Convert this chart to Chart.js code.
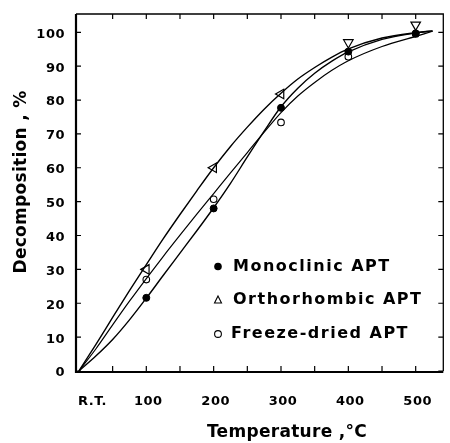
<!DOCTYPE html>
<html><head><meta charset="utf-8">
<script src="https://cdn.jsdelivr.net/npm/chart.js@4.4.1/dist/chart.umd.min.js"></script>
<style>html,body{margin:0;padding:0;background:#fff}#wrap{width:450px;height:443px;position:relative}</style>
</head><body><div id="wrap"><canvas id="c"></canvas></div>
<script>
// ---- data ----
const temperatures = [100, 200, 300, 400, 500];
const monoclinic   = [21.6, 48, 77.7, 94.3, 99.7];
const orthorhombic = [30, 60, 81.8, 97, 102.2];
const freezeDried  = [27, 50.7, 73.4, 92.8, 99.5];
const orthoRotation = [-90, -90, -90, 180, 180];

const curveT      = [0, 25, 50, 75, 100, 125, 150, 175, 200, 225, 250, 275, 300, 325, 350, 375, 400, 450, 500, 525];
const orthoCurve  = [0, 7.8, 15.8, 23.7, 31.4, 39, 46.2, 53.2, 60, 66.3, 72, 77.3, 82, 86.2, 89.6, 92.6, 95.1, 98.3, 99.9, 100.4];
const monoCurve   = [0, 4.4, 9.3, 15.1, 21.5, 28.2, 34.8, 41.4, 48.2, 55.4, 63.2, 70.8, 78, 83.5, 87.9, 91.4, 94.2, 97.9, 99.8, 100.4];
const freezeCurve = [0, 6.5, 13.6, 20.6, 27.3, 33.8, 40.1, 46.3, 52.4, 58.5, 64.5, 70.5, 76.3, 81.2, 85.2, 88.7, 91.6, 95.8, 98.8, 100.3];

const xTickValues = [50, 100, 150, 200, 250, 300, 350, 400, 450, 500];
const xLabelValues = [0, 100, 200, 300, 400, 500];
const xLabelTexts  = ['R.T.', '100', '200', '300', '400', '500'];
const yTickValues = [0, 10, 20, 30, 40, 50, 60, 70, 80, 90, 100];
const legendLabels = ['Monoclinic APT', 'Orthorhombic APT', 'Freeze-dried APT'];
const xTitle = 'Temperature ,°C';
const yTitle = 'Decomposition , %';

const pts = (xs, ys) => xs.map((x, i) => ({x, y: ys[i]}));
const FONT = '"DejaVu Sans", sans-serif';

const decor = {
  id: 'decor',
  afterDraw(chart) {
    const {ctx, chartArea: a, scales: {x, y}} = chart;
    ctx.save();
    ctx.strokeStyle = '#000'; ctx.fillStyle = '#000';
    // frame
    ctx.lineWidth = 1.3;
    ctx.beginPath(); ctx.moveTo(a.left, a.top); ctx.lineTo(a.right, a.top); ctx.lineTo(a.right, a.bottom); ctx.stroke();
    ctx.lineWidth = 2.2;
    ctx.beginPath(); ctx.moveTo(a.left, a.top); ctx.lineTo(a.left, a.bottom + 1); ctx.lineTo(a.right, a.bottom + 1); ctx.stroke();
    // inward ticks
    ctx.lineWidth = 1.2;
    ctx.beginPath();
    xTickValues.forEach(v => {
      const px = x.getPixelForValue(v);
      ctx.moveTo(px, a.bottom); ctx.lineTo(px, a.bottom - 5);
      ctx.moveTo(px, a.top); ctx.lineTo(px, a.top + 5);
    });
    yTickValues.forEach(v => {
      const py = y.getPixelForValue(v);
      ctx.moveTo(a.left, py); ctx.lineTo(a.left + 5, py);
      ctx.moveTo(a.right, py); ctx.lineTo(a.right - 5, py);
    });
    ctx.stroke();
    // y tick labels
    ctx.font = 'bold 13px ' + FONT;
    ctx.letterSpacing = '0.5px';
    ctx.textAlign = 'right'; ctx.textBaseline = 'middle';
    yTickValues.forEach(v => ctx.fillText(String(v), a.left - 11, y.getPixelForValue(v) + 2));
    // x tick labels
    xLabelValues.forEach((v, i) => {
      const px = x.getPixelForValue(v);
      ctx.textAlign = i === 0 ? 'left' : 'center';
      ctx.fillText(xLabelTexts[i], i === 0 ? px - 1 : px + 2, a.bottom + 31);
    });
    // axis titles
    ctx.font = 'bold 17px ' + FONT;
    ctx.letterSpacing = '0.3px';
    ctx.textAlign = 'center';
    ctx.fillText(xTitle, 287, 433);
    ctx.save();
    ctx.translate(22, 182); ctx.rotate(-Math.PI / 2);
    ctx.fillText(yTitle, 0, 0);
    ctx.restore();
    // legend
    ctx.font = 'bold 16px ' + FONT;
    ctx.letterSpacing = '1.5px';
    ctx.textAlign = 'left';
    const rows = [266.5, 300, 334];
    legendLabels.forEach((t, i) => ctx.fillText(t, i === 2 ? 231 : 233, rows[i]));
    ctx.letterSpacing = '0px';
    // legend markers
    ctx.lineWidth = 1.1;
    ctx.beginPath(); ctx.arc(218, rows[0], 3.8, 0, Math.PI * 2); ctx.fill();
    ctx.beginPath(); ctx.moveTo(218, rows[1] - 4); ctx.lineTo(221.5, rows[1] + 3); ctx.lineTo(214.5, rows[1] + 3); ctx.closePath(); ctx.stroke();
    ctx.beginPath(); ctx.arc(218, rows[2], 3.4, 0, Math.PI * 2); ctx.stroke();
    ctx.restore();
  }
};

new Chart(document.getElementById('c'), {
  type: 'scatter',
  data: {
    datasets: [
      {label: 'ortho curve', data: pts(curveT, orthoCurve), showLine: true, borderColor: '#000', borderWidth: 1.4, pointRadius: 0, cubicInterpolationMode: 'monotone'},
      {label: 'mono curve', data: pts(curveT, monoCurve), showLine: true, borderColor: '#000', borderWidth: 1.4, pointRadius: 0, cubicInterpolationMode: 'monotone'},
      {label: 'freeze curve', data: pts(curveT, freezeCurve), showLine: true, borderColor: '#000', borderWidth: 1.2, pointRadius: 0, cubicInterpolationMode: 'monotone'},
      {label: legendLabels[0], data: pts(temperatures, monoclinic), pointStyle: 'circle', pointRadius: 3.5, backgroundColor: '#000', borderColor: '#000', borderWidth: 1},
      {label: legendLabels[1], data: pts(temperatures, orthorhombic), pointStyle: 'triangle', pointRadius: 5.5, pointRotation: orthoRotation, backgroundColor: '#fff', borderColor: '#000', borderWidth: 1.2},
      {label: legendLabels[2], data: pts(temperatures, freezeDried), pointStyle: 'circle', pointRadius: 3.3, backgroundColor: '#fff', borderColor: '#000', borderWidth: 1.1}
    ]
  },
  options: {
    responsive: true, maintainAspectRatio: false, animation: false,
    layout: {padding: {left: 76, top: 14, right: 3, bottom: 72}},
    plugins: {legend: {display: false}, tooltip: {enabled: false}},
    scales: {
      x: {type: 'linear', min: -4.4, max: 541, display: false},
      y: {type: 'linear', min: 0, max: 105.4, display: false}
    }
  },
  plugins: [decor]
});
</script>
</body></html>
